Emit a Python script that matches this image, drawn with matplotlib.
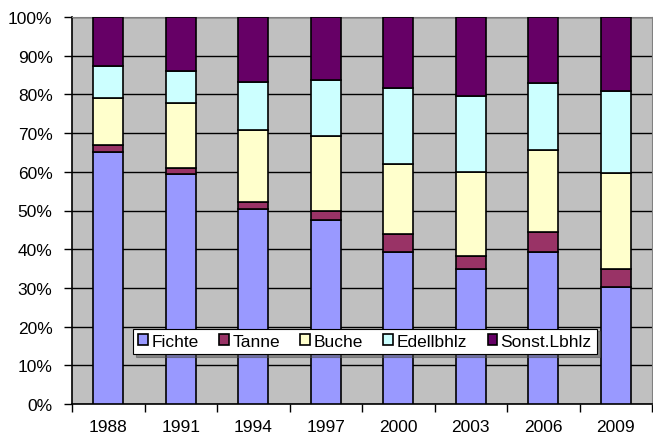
import numpy as np
import matplotlib.pyplot as plt
from matplotlib.ticker import FixedLocator, PercentFormatter

plt.rcParams['font.family'] = ['Liberation Sans', 'DejaVu Sans']

years = ['1988', '1991', '1994', '1997', '2000', '2003', '2006', '2009']
species = ['Fichte', 'Tanne', 'Buche', 'Edellbhlz', 'Sonst.Lbhlz']
colors = ['#9999FF', '#993366', '#FFFFCC', '#CCFFFF', '#660066']

# shares in percent
fichte = [65.1, 59.4, 50.4, 47.5, 39.3, 34.9, 39.3, 30.2]
tanne = [1.8, 1.6, 1.8, 2.4, 4.6, 3.3, 5.1, 4.7]
buche = [12.2, 16.8, 18.6, 19.4, 18.1, 21.7, 21.2, 24.8]
edel = [8.2, 8.2, 12.4, 14.4, 19.7, 19.7, 17.3, 21.2]
sonst = [12.7, 14.0, 16.8, 16.3, 18.3, 20.4, 17.1, 19.1]

series = [fichte, tanne, buche, edel, sonst]

fig = plt.figure(figsize=(6.53, 4.35), dpi=100)
ax = fig.add_axes([72 / 653, 30 / 435, 580 / 653, 387 / 435])
ax.set_facecolor('#C0C0C0')

x = np.arange(len(years))
bottom = np.zeros(len(years))
for name, vals, col in zip(species, series, colors):
    ax.bar(x, vals, bottom=bottom, width=0.41, color=col, edgecolor='black',
           linewidth=1.2, label=name, zorder=3)
    bottom += np.array(vals)

ax.set_xlim(-0.5, len(years) - 0.5)
ax.set_ylim(0, 100)
ax.set_yticks(np.arange(0, 101, 10))
ax.yaxis.set_major_formatter(PercentFormatter(decimals=0))
ax.grid(axis='y', color='black', linewidth=1, zorder=1)

# years centred under bars, tick marks between categories
ax.set_xticks(x)
ax.set_xticklabels(years)
ax.tick_params(axis='x', which='major', length=0, labelsize=12.5, pad=11)
ax.xaxis.set_minor_locator(FixedLocator(np.arange(-0.5, len(years), 1)))
ax.tick_params(axis='x', which='minor', length=6, width=1, direction='out')
ax.tick_params(axis='y', length=6, width=1, direction='out', labelsize=12.5,
               pad=8)

for s in ['top', 'right']:
    ax.spines[s].set_color('#808080')
for s in ['left', 'bottom']:
    ax.spines[s].set_color('black')
    ax.spines[s].set_linewidth(1.2)

leg = ax.legend(ncol=5, loc='lower left', mode='expand',
                bbox_to_anchor=(61 / 580, 50 / 387, 464 / 580, 28 / 387),
                frameon=True, fancybox=False, shadow=True, fontsize=12.5,
                handlelength=0.55, handleheight=0.55, handletextpad=0.2,
                columnspacing=0.8, borderpad=0.3, borderaxespad=0)
leg.get_frame().set_edgecolor('black')
leg.get_frame().set_linewidth(0.8)
leg.set_zorder(5)

plt.savefig('out.png', dpi=100)
